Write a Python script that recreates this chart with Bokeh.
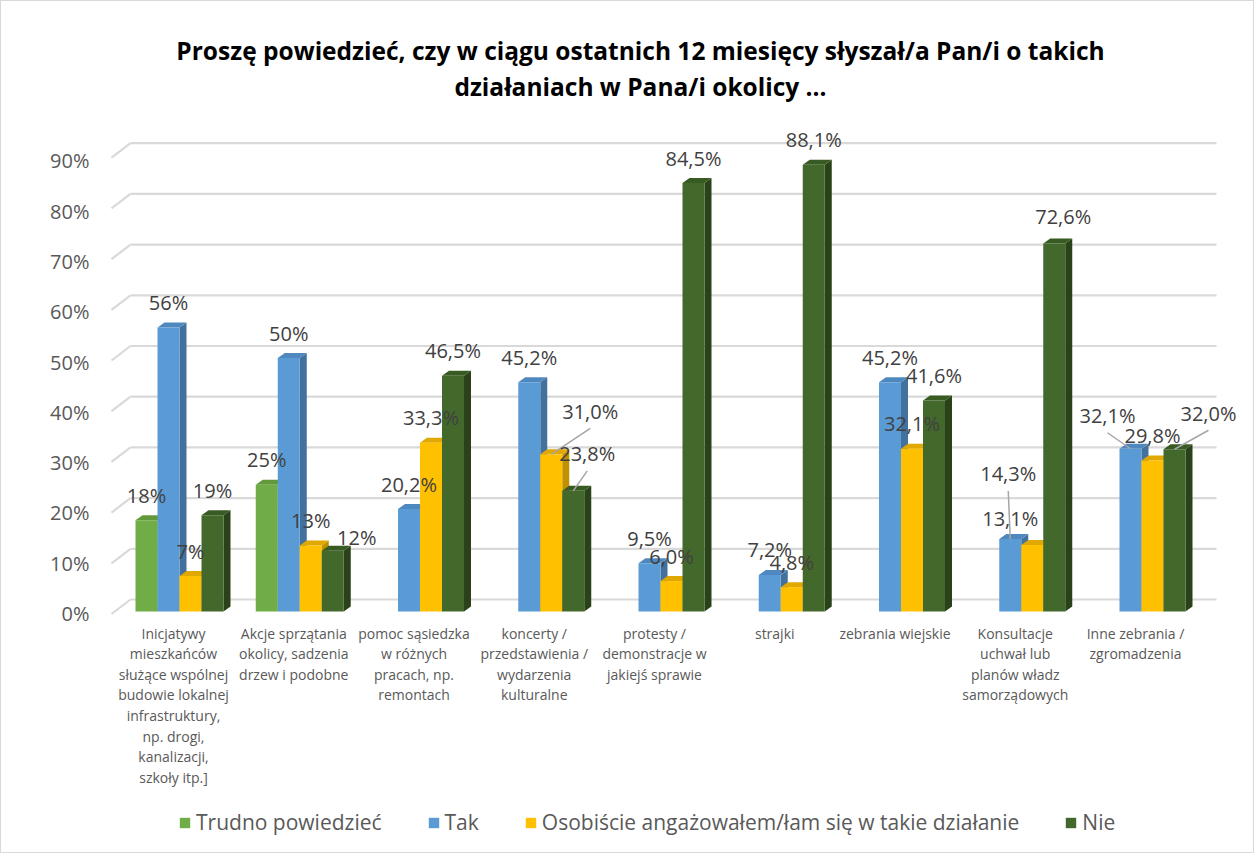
import math
from bokeh.plotting import figure
from bokeh.models import (Range1d, LinearAxis, FixedTicker, PrintfTickFormatter,
                          Legend, LegendItem, ColumnDataSource)
from bokeh.core.properties import value
from bokeh.embed import file_html
from bokeh.resources import INLINE

# ---------------- data ----------------
title_text = ("Proszę powiedzieć, czy w ciągu ostatnich 12 miesięcy słyszał/a Pan/i o takich\n"
              "działaniach w Pana/i okolicy ...")
categories = [
    "Inicjatywy\nmieszkańców\nsłużące wspólnej\nbudowie lokalnej\ninfrastruktury,\nnp. drogi,\nkanalizacji,\nszkoły itp.]",
    "Akcje sprzątania\nokolicy, sadzenia\ndrzew i podobne",
    "pomoc sąsiedzka\nw różnych\npracach, np.\nremontach",
    "koncerty /\nprzedstawienia /\nwydarzenia\nkulturalne",
    "protesty /\ndemonstracje w\njakiejś sprawie",
    "strajki",
    "zebrania wiejskie",
    "Konsultacje\nuchwał lub\nplanów władz\nsamorządowych",
    "Inne zebrania /\nzgromadzenia",
]
series_names = ["Trudno powiedzieć", "Tak",
                "Osobiście angażowałem/łam się w takie działanie", "Nie"]
trudno = [18, 25, None, None, None, None, None, None, None]
tak = [56, 50, 20.2, 45.2, 9.5, 7.2, 45.2, 14.3, 32.1]
osobiscie = [7, 13, 33.3, 31.0, 6.0, 4.8, 32.1, 13.1, 29.8]
nie = [19, 12, 46.5, 23.8, 84.5, 88.1, 41.6, 72.6, 32.0]
label_decimals = [0, 0, 1, 1, 1, 1, 1, 1, 1]
y_ticks = [0, 10, 20, 30, 40, 50, 60, 70, 80, 90]

series_values = [trudno, tak, osobiscie, nie]

# ---------------- style ----------------
front_colors = ["#70AD47", "#5B9BD5", "#FFC000", "#43682B"]
top_colors = ["#62993C", "#4F88BE", "#E0A800", "#385A23"]
side_colors = ["#507E32", "#41719C", "#BF9000", "#2A4219"]
FONT = value("Open Sans")

W, H = 1254, 853
LEFT = 107
PX_X = 120.25        # px per category
PX_Y = 5.07          # px per percent (bars)
PX_YA = 5.028        # px per percent (axis wall)
X0_PX = 71           # first category centre from frame left
Y0_PX = 610          # zero line from frame top
YA0_PX = 612
BAR_W = 22 / PX_X
DX = 7 / PX_X
DY = 5 / PX_Y

x_start = -X0_PX / PX_X
x_end = x_start + (W - LEFT) / PX_X
y_start = -(H - Y0_PX) / PX_Y
y_end = Y0_PX / PX_Y

p = figure(width=W, height=H, output_backend="svg", toolbar_location=None,
           x_range=Range1d(x_start, x_end), y_range=Range1d(y_start, y_end),
           x_axis_location=None, y_axis_location=None,
           min_border_left=LEFT, min_border_right=0, min_border_top=0, min_border_bottom=0)
p.xgrid.visible = False
p.ygrid.visible = False
p.outline_line_color = None
p.background_fill_color = "white"
p.border_fill_color = "white"
p.styles = {"border": "1px solid #D9D9D9"}

p.extra_y_ranges = {"wall": Range1d(-(H - YA0_PX) / PX_YA, YA0_PX / PX_YA)}
yaxis = LinearAxis(y_range_name="wall", ticker=FixedTicker(ticks=y_ticks),
                   formatter=PrintfTickFormatter(format="%d%%"))
yaxis.axis_line_color = None
yaxis.major_tick_line_color = None
yaxis.minor_tick_line_color = None
yaxis.major_label_text_font = "Open Sans"
yaxis.major_label_text_font_size = "20px"
yaxis.major_label_text_color = "#595959"
yaxis.major_label_standoff = 13
p.add_layout(yaxis, "left")

# ---------------- back wall gridlines (3D look) ----------------
wall_left = (130 - 179) / PX_X
wall_front = (111 - 179) / PX_X
wall_right = (1216 - 179) / PX_X
back_off = 12 / PX_Y
front_off = -2.5 / PX_Y
p.segment(x0=[wall_left] * len(y_ticks), x1=[wall_right] * len(y_ticks),
          y0=[t + back_off for t in y_ticks], y1=[t + back_off for t in y_ticks],
          line_color="#D9D9D9", line_width=2.2)
p.segment(x0=[wall_front] * len(y_ticks), x1=[wall_left] * len(y_ticks),
          y0=[t + front_off for t in y_ticks], y1=[t + back_off for t in y_ticks],
          line_color="#D9D9D9", line_width=2.2)

# ---------------- bars ----------------
front_renderers = []
label_x, label_y, label_txt, label_dx, label_dy = [], [], [], [], []
lead_x0, lead_y0, lead_x1, lead_y1 = [], [], [], []
special = {
    (3, 1): (24, -13, False),
    (2, 3): (39, -43, True),
    (3, 3): (14, -37, True),
    (1, 7): (-2, -65, True),
    (2, 7): (-22, -27, False),
    (3, 7): (9, -27, False),
    (1, 8): (-23, -33, True),
    (3, 8): (34, -36, True),
}
for s, vals in enumerate(series_values):
    xs_side, ys_side, xs_top, ys_top = [], [], [], []
    left, right, tops = [], [], []
    for i, v in enumerate(vals):
        if v is None:
            continue
        xc = i + (s - 1.5) * BAR_W
        x0, x1 = xc - BAR_W / 2, xc + BAR_W / 2
        left.append(x0); right.append(x1); tops.append(v)
        xs_side.append([x1, x1, x1 + DX, x1 + DX]); ys_side.append([0, v, v + DY, DY])
        xs_top.append([x0, x1, x1 + DX, x0 + DX]); ys_top.append([v, v, v + DY, v + DY])
        dec = label_decimals[i]
        txt = (f"{v:.{dec}f}".replace(".", ",")) + "%"
        dx, dy, lead = special.get((s, i), (0, -25, False))
        label_x.append(xc); label_y.append(v); label_txt.append(txt)
        label_dx.append(dx); label_dy.append(dy)
        if lead:
            lead_x0.append(xc + dx / PX_X); lead_y0.append(v - (dy + 17) / PX_Y)
            lead_x1.append(xc); lead_y1.append(v)
    p.patches(xs=xs_side, ys=ys_side, fill_color=side_colors[s], line_color=None)
    p.patches(xs=xs_top, ys=ys_top, fill_color=top_colors[s], line_color=None)
    r = p.quad(left=left, right=right, bottom=[0] * len(tops), top=tops,
               fill_color=front_colors[s], line_color=None)
    front_renderers.append(r)

# leader lines
p.segment(x0=lead_x0, y0=lead_y0, x1=lead_x1, y1=lead_y1, line_color="#A6A6A6", line_width=1.5)

# data labels
lsrc = ColumnDataSource(dict(x=label_x, y=label_y, t=label_txt, dx=label_dx, dy=label_dy))
p.text(x="x", y="y", text="t", x_offset="dx", y_offset="dy", source=lsrc,
       text_font=FONT, text_font_size="20px", text_color="#404040",
       text_align="center", text_baseline="middle")

# category labels
p.text(x=[i - 6 / PX_X for i in range(len(categories))],
       y=[-12 / PX_Y] * len(categories), text=categories,
       text_font=FONT, text_font_size="14px", text_color="#595959",
       text_align="center", text_baseline="top", text_line_height=1.086)

# title
p.text(x=[(640 - 179) / PX_X], y=[(611 - 68) / PX_Y], text=[title_text],
       text_font=FONT, text_font_style="bold", text_font_size="24.5px",
       text_color="#000000", text_align="center", text_baseline="middle",
       text_line_height=1.117)

# legend
legend = Legend(items=[LegendItem(label=n, renderers=[r]) for n, r in zip(series_names, front_renderers)],
                orientation="horizontal", location=(70, 18),
                glyph_width=13, glyph_height=13, label_standoff=5, spacing=45,
                padding=0, margin=0, border_line_color=None, background_fill_alpha=0,
                label_text_font="Open Sans", label_text_font_size="21px",
                label_text_color="#595959")
p.add_layout(legend)

open("out.html", "w").write(file_html(p, INLINE))
